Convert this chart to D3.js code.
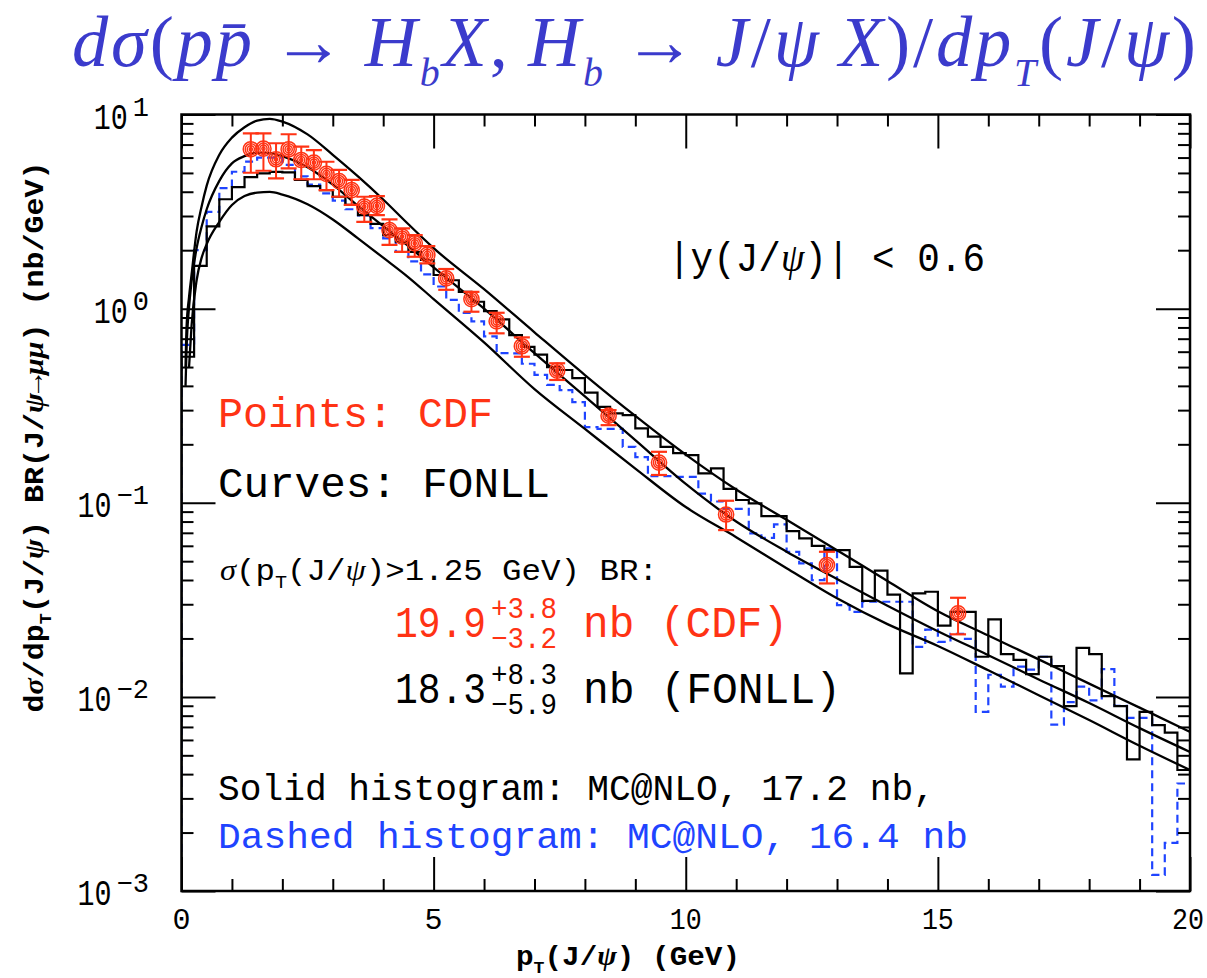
<!DOCTYPE html>
<html>
<head>
<meta charset="utf-8">
<script src="https://cdn.jsdelivr.net/npm/d3@7"></script>
<style>
  body { margin: 0; background: #fff; }
  svg { display: block; }
</style>
</head>
<body>
<svg id="chart" width="1207" height="978"></svg>
<script>
'use strict';

// ---- data ----
var binWidth = 0.25; // GeV, MC@NLO histograms

var solidHist = [0.565, 1.66, 2.65, 3.66, 4.23, 4.76, 4.97, 5.06, 5.03, 4.60,
  4.28, 4.08, 3.77, 3.42, 3.03, 2.73, 2.39, 2.21, 1.96, 1.78,
  1.49, 1.40, 1.22, 1.085, 0.97, 0.88, 0.73, 0.636, 0.58, 0.50,
  0.483, 0.438, 0.369, 0.312, 0.289, 0.283, 0.2415, 0.219, 0.194, 0.18,
  0.176, 0.1417, 0.1503, 0.118, 0.1033, 0.0993, 0.0854, 0.0854, 0.0715, 0.0656,
  0.060, 0.057, 0.057, 0.0467, 0.0312, 0.0447, 0.0336, 0.0132, 0.0341, 0.0348,
  0.0233, 0.0274, 0.0274, 0.0161, 0.0251, 0.0166, 0.0155, 0.0131, 0.0161, 0.0144,
  0.00897, 0.0179, 0.0166, 0.0101, 0.00897, 0.00476, 0.00837, 0.00716, 0.00654, 0.0042];

var dashedHist = [0.65, 2.0, 3.15, 4.18, 5.07, 5.72, 6.0, 6.0, 5.5, 4.8,
  4.35, 3.92, 3.6, 3.25, 3.02, 2.6, 2.3, 1.96, 1.75, 1.5,
  1.3, 1.11, 0.95, 0.86, 0.72, 0.59, 0.588, 0.52, 0.456, 0.405,
  0.38, 0.33, 0.245, 0.24, 0.24, 0.194, 0.172, 0.137, 0.137, 0.136,
  0.136, 0.1115, 0.1015, 0.093, 0.093, 0.0695, 0.066, 0.0773, 0.0559, 0.0487,
  0.0399, 0.0582, 0.0297, 0.0274, 0.0309, 0.0309, 0.0309, 0.0309, 0.0181, 0.0222,
  0.0192, 0.0211, 0.0199, 0.00837, 0.013, 0.0113, 0.0143, 0.0138, 0.0161, 0.0072,
  0.0094, 0.0113, 0.0096, 0.0139, 0.0090, 0.0078, 0.0078, 0.00121, 0.00177, 0.00358];

// FONLL central value and uncertainty band edges
var fonllPt = [0.08, 0.1, 0.15, 0.2, 0.3, 0.4, 0.5, 0.75, 1, 1.25, 1.5, 1.75, 2, 2.5, 3, 3.5, 4, 4.5, 5,
  6, 7, 8, 9, 10, 11, 12, 13, 14, 15, 16, 17, 18, 19, 20];
var fonllCentral = [0.40, 0.62, 1.02, 1.38, 2.05, 2.65, 3.25, 4.55, 5.6, 6.1, 6.35, 6.33, 6.1, 5.35, 4.35, 3.38, 2.66, 2.10, 1.63,
  1.0, 0.59, 0.353, 0.21, 0.125, 0.080, 0.056, 0.0405, 0.0295, 0.0218, 0.0164, 0.0123, 0.0093, 0.0069, 0.0052];
var fonllUpper = [0.50, 0.80, 1.15, 1.5, 2.5, 3.37, 4.3, 6.2, 7.6, 8.6, 9.3, 9.5, 9.2, 7.9, 6.2, 4.8, 3.65, 2.72, 2.05,
  1.26, 0.755, 0.455, 0.28, 0.177, 0.117, 0.0817, 0.057, 0.0395, 0.0276, 0.0207, 0.0156, 0.0117, 0.0088, 0.0066];
var fonllLower = [null, null, 0.5, 0.82, 1.4, 1.83, 2.15, 2.8, 3.42, 3.8, 3.96, 3.99, 3.87, 3.45, 2.88, 2.3, 1.83, 1.45, 1.12,
  0.67, 0.385, 0.24, 0.15, 0.095, 0.0665, 0.046, 0.0322, 0.0237, 0.0183, 0.0137, 0.0102, 0.0076, 0.0056, 0.0042];

// CDF points with error bar ends
var cdfPt = [1.375, 1.625, 1.875, 2.125, 2.375, 2.625, 2.875, 3.125, 3.375, 3.625, 3.875, 4.125, 4.375, 4.625, 4.875,
  5.25, 5.75, 6.25, 6.75, 7.45, 8.47, 9.47, 10.8, 12.8, 15.4];
var cdfVal = [6.62, 6.67, 5.88, 6.62, 5.83, 5.65, 4.94, 4.54, 4.08, 3.35, 3.38, 2.54, 2.35, 2.17, 1.89,
  1.43, 1.12, 0.86, 0.64, 0.479, 0.281, 0.161, 0.087, 0.0478, 0.0269];
var cdfHi = [8.0, 8.0, 7.11, 7.91, 6.83, 6.56, 5.71, 5.18, 4.60, 3.77, 3.80, 2.88, 2.59, 2.39, 2.10,
  1.60, 1.22, 0.952, 0.711, 0.523, 0.300, 0.183, 0.1024, 0.0559, 0.0324];
var cdfLo = [5.01, 5.13, 4.69, 5.28, 4.64, 4.64, 4.08, 3.77, 3.42, 2.80, 3.03, 2.13, 1.96, 1.85, 1.71,
  1.25, 0.964, 0.746, 0.565, 0.429, 0.251, 0.139, 0.0723, 0.0384, 0.0210];

var xMajor = [0, 5, 10, 15, 20];
var yDecades = [-3, -2, -1, 0, 1];

// ---- styles ----
var RED = '#ff3314', BLUE = '#1f44ff', TITLE = '#3b3bcc';
var MONO = '"Liberation Mono", "DejaVu Sans Mono", monospace';
var SERIF = '"Liberation Serif", "DejaVu Serif", serif';

var svg = d3.select('#chart');
var x = d3.scaleLinear().domain([0, 20]).range([181.5, 1190]);
var y = d3.scaleLog().domain([1e-3, 10]).range([891, 114.5]);
var yMin = 1e-3;

svg.append('defs').append('clipPath').attr('id', 'plotclip')
  .append('rect')
  .attr('x', x(0)).attr('y', y(10))
  .attr('width', x(20) - x(0)).attr('height', y(yMin) - y(10));

// text with sub/superscripts and italic greek
function rich(sel, parts, size, serifBase, subScale) {
  var shift = 0;
  parts.forEach(function (p) {
    var ts = sel.append('tspan').text(p.t);
    var target = p.sub ? size * 0.28 : (p.sup ? -size * 0.42 : 0);
    if (target !== shift) { ts.attr('dy', target - shift); shift = target; }
    if (p.sub || p.sup) ts.attr('font-size', size * (subScale || 0.62));
    if (p.it) {
      ts.attr('font-style', 'italic');
      if (!serifBase) ts.attr('font-family', SERIF);
    }
  });
  return sel;
}

// ---- title (scaled to the width it takes in the figure) ----
var titleG = svg.append('g');
var title = titleG.append('text')
  .attr('x', 0).attr('y', 0)
  .attr('font-family', SERIF).attr('font-size', 58)
  .attr('fill', TITLE);
rich(title, [
  {t: 'dσ', it: 1}, {t: '('}, {t: 'pp\u0304', it: 1}, {t: '\u2009→\u2009'}, {t: 'H', it: 1}, {t: 'b', it: 1, sub: 1},
  {t: 'X', it: 1}, {t: ',\u2009'}, {t: 'H', it: 1}, {t: 'b', it: 1, sub: 1}, {t: '\u2009→\u2009'}, {t: 'J', it: 1},
  {t: '/'}, {t: 'ψ\u2009X', it: 1}, {t: ')/'}, {t: 'dp', it: 1}, {t: 'T', it: 1, sub: 1}, {t: '('},
  {t: 'J', it: 1}, {t: '/'}, {t: 'ψ', it: 1}, {t: ')'}
], 58, true, 0.55);
var tw = title.node().getBBox().width;
var ts = Math.min(1124 / tw, 1.25);
titleG.attr('transform', 'translate(72,66) scale(' + ts + ')');
if (ts < 1124 / tw) title.attr('textLength', 1124 / ts).attr('lengthAdjust', 'spacing');

// ---- plot contents ----
var plot = svg.append('g').attr('clip-path', 'url(#plotclip)');

function histPoints(vals) {
  var pts = [[0, yMin]];
  vals.forEach(function (v, i) {
    pts.push([i * binWidth, v]);
    pts.push([(i + 1) * binWidth, v]);
  });
  return pts;
}
var stepLine = d3.line()
  .x(function (d) { return x(d[0]); })
  .y(function (d) { return y(Math.max(d[1], yMin)); });

plot.append('path')
  .attr('d', stepLine(histPoints(dashedHist)))
  .attr('fill', 'none').attr('stroke', BLUE).attr('stroke-width', 2.2)
  .attr('stroke-dasharray', '8,5');

plot.append('path')
  .attr('d', stepLine(histPoints(solidHist)))
  .attr('fill', 'none').attr('stroke', '#000').attr('stroke-width', 2.2);

var curve = d3.line()
  .defined(function (d) { return d[1] != null; })
  .x(function (d) { return x(d[0]); })
  .y(function (d) { return y(d[1]); })
  .curve(d3.curveMonotoneX);

[fonllUpper, fonllCentral, fonllLower].forEach(function (vals) {
  plot.append('path')
    .attr('d', curve(fonllPt.map(function (p, i) { return [p, vals[i]]; })))
    .attr('fill', 'none').attr('stroke', '#000').attr('stroke-width', 2.3);
});

// CDF data: error bars + concentric ring markers
var cdf = cdfPt.map(function (p, i) { return {p: p, v: cdfVal[i], hi: cdfHi[i], lo: cdfLo[i]}; });
var pts = plot.selectAll('g.cdf').data(cdf).join('g')
  .attr('class', 'cdf')
  .attr('transform', function (d) { return 'translate(' + x(d.p) + ',0)'; })
  .attr('stroke', RED).attr('fill', 'none');
pts.append('line')
  .attr('x1', 0).attr('x2', 0)
  .attr('y1', function (d) { return y(d.hi); }).attr('y2', function (d) { return y(d.lo); })
  .attr('stroke-width', 2);
pts.append('line').attr('x1', -8).attr('x2', 8)
  .attr('y1', function (d) { return y(d.hi); }).attr('y2', function (d) { return y(d.hi); })
  .attr('stroke-width', 2.2);
pts.append('line').attr('x1', -8).attr('x2', 8)
  .attr('y1', function (d) { return y(d.lo); }).attr('y2', function (d) { return y(d.lo); })
  .attr('stroke-width', 2.2);
pts.selectAll('circle')
  .data(function (d) { return [7.6, 5.6, 3.6, 1.6].map(function (r) { return {r: r, cy: y(d.v)}; }); })
  .join('circle')
  .attr('cx', 0).attr('cy', function (d) { return d.cy; }).attr('r', function (d) { return d.r; })
  .attr('stroke-width', 1.5);

// ---- axes (ticks inside on all four sides) ----
var xMinor = d3.range(0, 21).filter(function (v) { return v % 5 !== 0; });
var yMinor = [];
yDecades.slice(0, -1).forEach(function (e) {
  for (var k = 2; k <= 9; k++) yMinor.push(k * Math.pow(10, e));
});
var yMajor = yDecades.map(function (e) { return Math.pow(10, e); });

function drawAxis(axis, transform) {
  var g = svg.append('g').attr('transform', transform).call(axis);
  g.select('.domain').remove();
  g.selectAll('.tick line').attr('stroke', '#000').attr('stroke-width', 2);
  g.selectAll('.tick text').remove();
}
drawAxis(d3.axisBottom(x).tickValues(xMajor).tickSize(-34).tickSizeOuter(0), 'translate(0,' + y(yMin) + ')');
drawAxis(d3.axisBottom(x).tickValues(xMinor).tickSize(-12).tickSizeOuter(0), 'translate(0,' + y(yMin) + ')');
drawAxis(d3.axisTop(x).tickValues(xMajor).tickSize(-34).tickSizeOuter(0), 'translate(0,' + y(10) + ')');
drawAxis(d3.axisTop(x).tickValues(xMinor).tickSize(-12).tickSizeOuter(0), 'translate(0,' + y(10) + ')');
drawAxis(d3.axisLeft(y).tickValues(yMajor).tickSize(-34).tickSizeOuter(0), 'translate(' + x(0) + ',0)');
drawAxis(d3.axisLeft(y).tickValues(yMinor).tickSize(-12).tickSizeOuter(0), 'translate(' + x(0) + ',0)');
drawAxis(d3.axisRight(y).tickValues(yMajor).tickSize(-34).tickSizeOuter(0), 'translate(' + x(20) + ',0)');
drawAxis(d3.axisRight(y).tickValues(yMinor).tickSize(-12).tickSizeOuter(0), 'translate(' + x(20) + ',0)');

svg.append('rect')
  .attr('x', x(0)).attr('y', y(10))
  .attr('width', x(20) - x(0)).attr('height', y(yMin) - y(10))
  .attr('fill', 'none').attr('stroke', '#000').attr('stroke-width', 2.5);

// x tick labels
svg.append('g').selectAll('text').data(xMajor).join('text')
  .attr('x', function (d) { return d === 20 ? x(d) - 2 : x(d); }).attr('y', 929)
  .attr('text-anchor', 'middle')
  .attr('font-family', MONO).attr('font-size', 30)
  .each(function (d) {
    if (String(d).length > 1) d3.select(this).attr('textLength', 32).attr('lengthAdjust', 'spacingAndGlyphs');
  })
  .text(function (d) { return d; });

// y tick labels: 10^e
var yl = svg.append('g').selectAll('g').data(yDecades).join('g');
yl.each(function (e) {
  var g = d3.select(this);
  var base = y(Math.pow(10, e));
  var ex = g.append('text')
    .attr('x', 149).attr('y', base + 1)
    .attr('text-anchor', 'end')
    .attr('font-family', MONO).attr('font-size', 27)
    .text(e < 0 ? '−' + (-e) : String(e));
  var w = ex.node().getComputedTextLength();
  g.append('text')
    .attr('x', 149 - w - 5).attr('y', base + 14)
    .attr('text-anchor', 'end')
    .attr('font-family', MONO).attr('font-size', 36)
    .attr('textLength', 34).attr('lengthAdjust', 'spacingAndGlyphs')
    .text('10');
});

// axis titles
var ylab = svg.append('text')
  .attr('transform', 'translate(43,437) rotate(-90)')
  .attr('text-anchor', 'middle')
  .attr('font-family', MONO).attr('font-size', 27).attr('font-weight', 'bold')
  .attr('textLength', 551).attr('lengthAdjust', 'spacingAndGlyphs');
rich(ylab, [
  {t: 'd'}, {t: 'σ', it: 1}, {t: '/dp'}, {t: 'T', sub: 1}, {t: '(J/'}, {t: 'ψ', it: 1}, {t: ') BR(J/'},
  {t: 'ψ', it: 1}, {t: '→'}, {t: 'μμ', it: 1}, {t: ') (nb/GeV)'}
], 27);

var xlab = svg.append('text')
  .attr('x', 516).attr('y', 965)
  .attr('font-family', MONO).attr('font-size', 28).attr('font-weight', 'bold')
  .attr('textLength', 224).attr('lengthAdjust', 'spacingAndGlyphs');
rich(xlab, [{t: 'p'}, {t: 'T', sub: 1}, {t: '(J/'}, {t: 'ψ', it: 1}, {t: ') (GeV)'}], 28);

// ---- annotations ----
function label(xp, yp, size, color, width, parts) {
  var t = svg.append('text')
    .attr('x', xp).attr('y', yp)
    .attr('font-family', MONO).attr('font-size', size).attr('fill', color);
  if (width) t.attr('textLength', width).attr('lengthAdjust', 'spacingAndGlyphs');
  return rich(t, parts, size);
}

label(668, 271, 40, '#000', 317, [{t: '|y(J/'}, {t: 'ψ', it: 1}, {t: ')| < 0.6'}]);
label(218, 427, 42, RED, 275, [{t: 'Points: CDF'}]);
label(218, 497, 42, '#000', 332, [{t: 'Curves: FONLL'}]);
label(220, 580, 30, '#000', 438, [{t: 'σ', it: 1}, {t: '(p'}, {t: 'T', sub: 1}, {t: '(J/'}, {t: 'ψ', it: 1},
  {t: ')>1.25 GeV) BR:'}]);

function xsec(yb, color, val, up, dn, tail, tailW) {
  label(395, yb, 44, color, 91, [{t: val}]);
  label(491, yb - 19, 30, color, 66, [{t: up}]);
  label(491, yb + 11, 30, color, 66, [{t: dn}]);
  label(583, yb, 44, color, tailW, [{t: tail}]);
}
xsec(637, RED, '19.9', '+3.8', '−3.2', 'nb (CDF)', 205);
xsec(703, '#000', '18.3', '+8.3', '−5.9', 'nb (FONLL)', 258);

label(218, 800, 37, '#000', 717, [{t: 'Solid histogram: MC@NLO, 17.2 nb,'}]);
label(218, 848, 37, BLUE, 750, [{t: 'Dashed histogram: MC@NLO, 16.4 nb'}]);
</script>
</body>
</html>
